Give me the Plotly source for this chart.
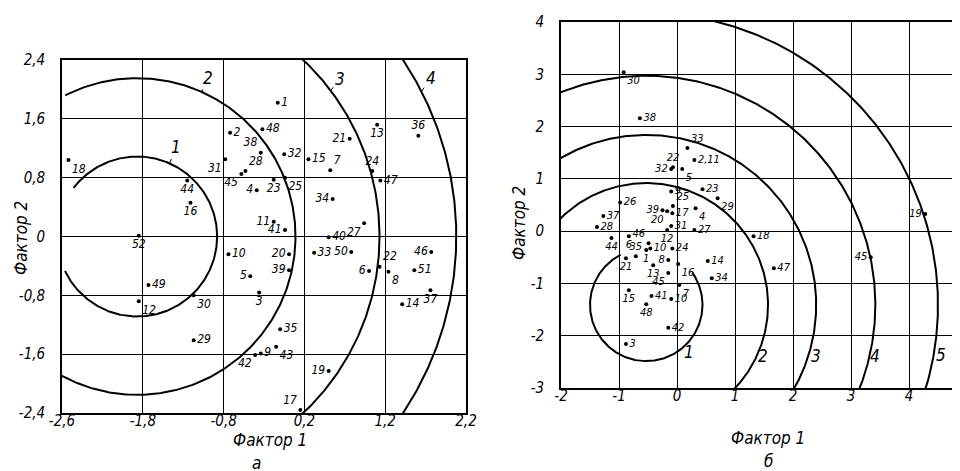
import numpy as np
import plotly.graph_objects as go

W, H = 960, 471
FONT = "Liberation Sans Narrow, DejaVu Sans Condensed, sans-serif"

# ---------------- Chart "а" ----------------
a_labels = ["1", "2", "3", "4", "5", "6", "7", "8", "9", "10",
            "11", "12", "13", "14", "15", "16", "17", "18", "19", "20",
            "21", "22", "23", "24", "25", "27", "28", "29", "30", "31",
            "32", "33", "34", "35", "36", "37", "38", "39", "40", "41",
            "42", "43", "44", "45", "46", "47", "48", "49", "50", "51", "52"]
a_x = [-0.13, -0.72, -0.36, -0.39, -0.47, 1.00, 0.52, 1.24, -0.34, -0.74,
       -0.18, -1.85, 1.10, 1.41, 0.25, -1.21, 0.15, -2.72, 0.50, 0.01,
       0.76, 1.13, -0.18, 1.04, -0.04, 0.94, -0.53, -1.17, -1.17, -0.78,
       -0.05, 0.32, 0.55, -0.10, 1.61, 1.76, -0.34, 0.01, 0.50, -0.04,
       -0.41, -0.15, -1.25, -0.58, 1.77, 1.14, -0.32, -1.73, 0.78, 1.56, -1.85]
a_y = [1.82, 1.41, -0.76, 0.63, -0.54, -0.47, 0.90, -0.48, -1.59, -0.24,
       0.20, -0.88, 1.52, -0.92, 1.05, 0.46, -2.36, 1.04, -1.83, -0.24,
       1.33, -0.41, 0.77, 0.89, 0.80, 0.18, 0.89, -1.41, -0.80, 1.05,
       1.12, -0.22, 0.51, -1.26, 1.37, -0.73, 1.14, -0.46, -0.01, 0.09,
       -1.61, -1.50, 0.76, 0.85, -0.21, 0.76, 1.46, -0.66, -0.21, -0.46, 0.01]
a_xtick_vals = [-2.8, -1.8, -0.8, 0.2, 1.2, 2.2]
a_xtick_text = ["-2,6", "-1,8", "-0,8", "0,2", "1,2", "2,2"]
a_ytick_vals = [-2.4, -1.6, -0.8, 0.0, 0.8, 1.6, 2.4]
a_ytick_text = ["-2,4", "-1,6", "-0,8", "0", "0,8", "1,6", "2,4"]
a_circle_center = (-1.87, 0.0)
a_circle_radius = [0.99, 1.96, 3.0, 3.95]
a_circle_names = ["1", "2", "3", "4"]

# ---------------- Chart "б" ----------------
b_labels = ["30", "38", "33", "22", "32", "5", "2,11", "23", "29", "9",
            "39", "20", "25", "17", "4", "31", "12", "27", "26", "37",
            "28", "44", "6", "46", "35", "21", "1", "10", "8", "24",
            "16", "13", "45", "14", "34", "7", "15", "41", "10", "48",
            "42", "3", "18", "47", "45", "19"]
b_x = [-0.92, -0.64, 0.18, -0.07, -0.10, 0.09, 0.30, 0.44, 0.70, -0.10,
       -0.25, -0.17, -0.07, -0.08, 0.32, -0.10, -0.17, 0.30, -0.98, -1.27,
       -1.38, -1.13, -0.83, -0.49, -0.71, -0.88, -0.53, -0.46, -0.15, -0.08,
       0.02, -0.41, -0.15, 0.53, 0.60, 0.04, -0.83, -0.44, -0.10, -0.53,
       -0.15, -0.88, 1.32, 1.67, 3.34, 4.28]
b_y = [3.04, 2.16, 1.59, 1.22, 1.19, 1.19, 1.36, 0.80, 0.63, 0.76,
       0.40, 0.38, 0.48, 0.34, 0.44, 0.10, 0.02, 0.02, 0.55, 0.29,
       0.08, -0.13, -0.10, -0.23, -0.48, -0.52, -0.36, -0.33, -0.55, -0.33,
       -0.63, -0.65, -0.80, -0.57, -0.90, -1.03, -1.13, -1.24, -1.30, -1.40,
       -1.85, -2.16, -0.10, -0.71, -0.50, 0.33]
b_xtick_vals = [-2, -1, 0, 1, 2, 3, 4, 5]
b_xtick_text = ["-2", "-1", "0", "1", "2", "3", "4", "5"]
b_ytick_vals = [-3, -2, -1, 0, 1, 2, 3, 4]
b_ytick_text = ["-3", "-2", "-1", "0", "1", "2", "3", "4"]
b_circle_center = (-0.53, -1.41)
b_circle_radius = [0.97, 2.10, 2.93, 3.95, 5.03]
b_circle_names = ["1", "2", "3", "4", "5"]

# ---------------- styles / placement (not data) ----------------
a_pos = ["middle right", "middle right", "bottom center", "middle left", "middle left",
         "middle left", "top right", "bottom right", "middle right", "middle right",
         "middle left", "bottom right", "bottom center", "middle right", "middle right",
         "bottom center", "top left", "bottom right", "middle left", "middle left",
         "middle left", "top right", "bottom center", "top center", "bottom right",
         "bottom left", "top right", "middle right", "bottom right", "bottom left",
         "middle right", "middle right", "middle left", "middle right", "top center",
         "bottom center", "top left", "middle left", "middle right", "middle left",
         "bottom left", "bottom right", "bottom center", "bottom left", "middle left",
         "middle right", "middle right", "middle right", "middle left", "middle right",
         "bottom center"]
b_pos = ["bottom right", "middle right", "top right", "top center", "middle left",
         "bottom right", "middle right", "middle right", "bottom right", "middle right",
         "middle left", "bottom left", "top right", "middle right", "bottom right",
         "middle right", "bottom center", "middle right", "middle right", "middle right",
         "middle right", "bottom center", "bottom center", "top left", "top center",
         "bottom center", "bottom center", "middle right", "middle left", "middle right",
         "bottom right", "bottom center", "bottom left", "middle right", "middle right",
         "bottom right", "bottom center", "middle right", "middle right", "bottom center",
         "middle right", "middle right", "middle right", "middle right", "middle left",
         "middle left"]
# arc angular extents (degrees, counter-clockwise on screen)
a_arc = [(-154.4, 142.6), (-125, 117), (-90, 90), (-90, 90)]
b_arc = [(117, 395), (-46, 142), (-32, 126), (-24, 116), (-19, 82)]
# label leader: angle on circle, and text offset in px
a_lab = [(66, 6, -16), (66, 6, -14), (37, 9, -12), (27, 9, -14)]
b_lab = [(-46, 4, 7), (-23, 5, 4), (-16, 6, 4), (-12, 5, 3), (-9.3, 7, 3)]

# pixel layout of the two plot frames
A_BOX = dict(l=54, r=458, t=52, b=405)
B_BOX = dict(l=553, r=959, t=14, b=380)
a_xr, a_yr = [-2.8, 2.2], [-2.4, 2.4]
b_xr, b_yr = [-2, 5], [-3, 4]


def aspect(box, xr, yr):
    pxx = (box["r"] - box["l"]) / (xr[1] - xr[0])
    pxy = (box["b"] - box["t"]) / (yr[1] - yr[0])
    return pxx / pxy


ka = aspect(A_BOX, a_xr, a_yr)
kb = aspect(B_BOX, b_xr, b_yr)

fig = go.Figure()


def add_arcs(center, radii, arcs, k, xa, ya):
    for r, (t0, t1) in zip(radii, arcs):
        t = np.radians(np.linspace(t0, t1, 400))
        fig.add_trace(go.Scatter(
            x=center[0] + r * np.cos(t), y=center[1] + r * k * np.sin(t),
            mode="lines", line=dict(color="black", width=2),
            xaxis=xa, yaxis=ya, showlegend=False, hoverinfo="skip"))


add_arcs(a_circle_center, a_circle_radius, a_arc, ka, "x", "y")
add_arcs(b_circle_center, b_circle_radius, b_arc, kb, "x2", "y2")

fig.add_trace(go.Scatter(
    x=a_x, y=a_y, mode="markers+text", text=a_labels, textposition=a_pos,
    marker=dict(color="black", size=4),
    textfont=dict(family=FONT, size=12, color="black", style="italic"),
    xaxis="x", yaxis="y", showlegend=False, hoverinfo="skip", cliponaxis=False))
fig.add_trace(go.Scatter(
    x=b_x, y=b_y, mode="markers+text", text=b_labels, textposition=b_pos,
    marker=dict(color="black", size=4),
    textfont=dict(family=FONT, size=11, color="black", style="italic"),
    xaxis="x2", yaxis="y2", showlegend=False, hoverinfo="skip", cliponaxis=False))

annotations = []
lab_font = dict(family=FONT, size=17, color="black", style="italic")
for name, r, (ang, dx, dy) in zip(a_circle_names, a_circle_radius, a_lab):
    t = np.radians(ang)
    annotations.append(dict(
        x=a_circle_center[0] + r * np.cos(t), y=a_circle_center[1] + r * ka * np.sin(t),
        xref="x", yref="y", text=name, showarrow=True, arrowhead=0, arrowwidth=1,
        arrowcolor="black", ax=dx, ay=dy, standoff=0, font=lab_font))
for name, r, (ang, dx, dy) in zip(b_circle_names, b_circle_radius, b_lab):
    t = np.radians(ang)
    annotations.append(dict(
        x=b_circle_center[0] + r * np.cos(t), y=b_circle_center[1] + r * kb * np.sin(t),
        xref="x2", yref="y2", text=name, showarrow=True, arrowhead=0, arrowwidth=1,
        arrowcolor="black", ax=dx, ay=dy, standoff=0, font=lab_font))

title_font = dict(family=FONT, size=17, color="black", style="italic")


def paper(px, py):
    return px / W, 1 - py / H


for txt, px, py, rot in [("Фактор 2", 13, 230, -90), ("Фактор 1", 262, 432, 0),
                         ("а", 248, 455, 0), ("Фактор 2", 511, 215, -90),
                         ("Фактор 1", 760, 430, 0), ("б", 760, 453, 0)]:
    xp, yp = paper(px, py)
    annotations.append(dict(x=xp, y=yp, xref="paper", yref="paper", text=txt,
                            showarrow=False, textangle=rot, font=title_font,
                            xanchor="center", yanchor="middle"))


def axis(box, rng, vals, text, horiz, anchor):
    if horiz:
        dom = [box["l"] / W, box["r"] / W]
        standoff = -7
    else:
        dom = [1 - box["b"] / H, 1 - box["t"] / H]
        standoff = 12
    return dict(domain=dom, range=rng, tickvals=vals, ticktext=text,
                showgrid=True, gridcolor="black", gridwidth=1.2, zeroline=False,
                showline=True, mirror=True, linecolor="black", linewidth=1.6,
                ticks="", ticklabelstandoff=standoff, anchor=anchor, fixedrange=True,
                automargin=False,
                tickfont=dict(family=FONT, size=15, color="black", style="italic"))


fig.update_layout(
    width=W, height=H, margin=dict(l=0, r=0, t=0, b=0, autoexpand=False),
    paper_bgcolor="white", plot_bgcolor="white", showlegend=False,
    xaxis=axis(A_BOX, a_xr, a_xtick_vals, a_xtick_text, True, "y"),
    yaxis=axis(A_BOX, a_yr, a_ytick_vals, a_ytick_text, False, "x"),
    xaxis2=axis(B_BOX, b_xr, b_xtick_vals, b_xtick_text, True, "y2"),
    yaxis2=axis(B_BOX, b_yr, b_ytick_vals, b_ytick_text, False, "x2"),
    annotations=annotations,
)

fig.write_html("out.html")
